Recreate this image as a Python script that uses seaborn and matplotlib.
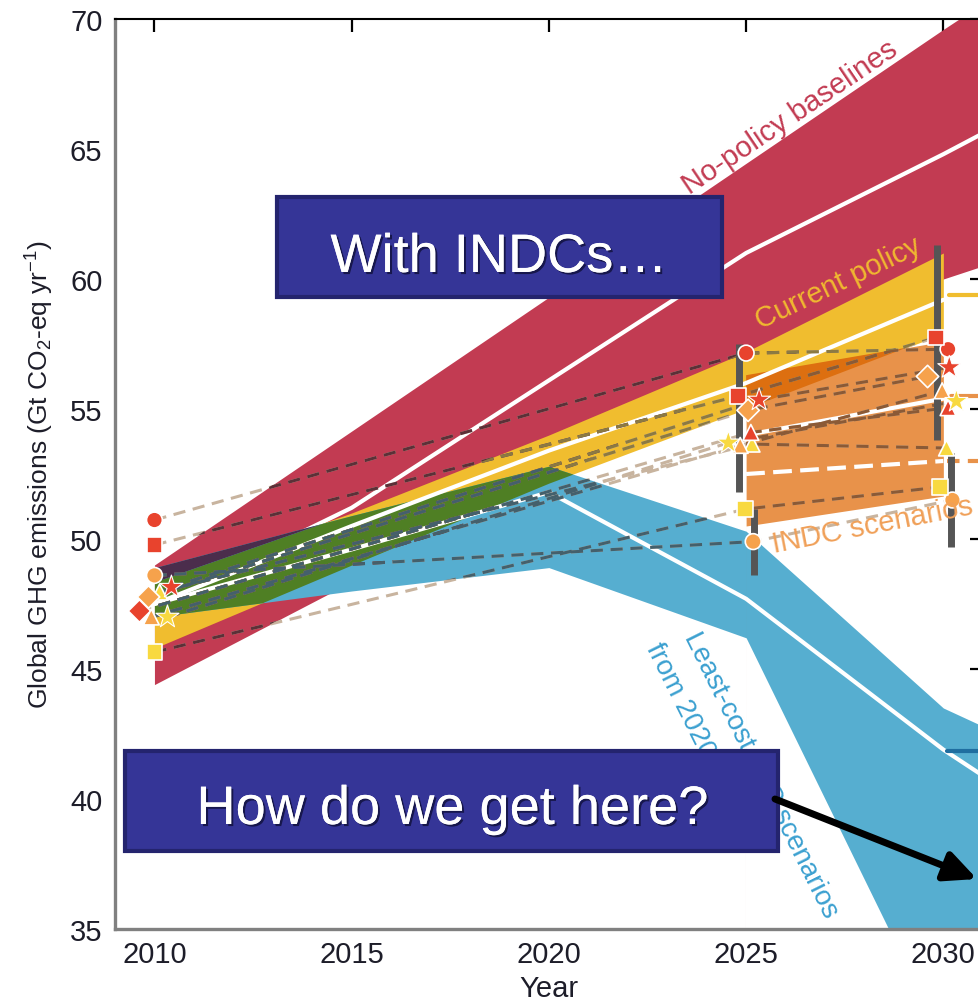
import numpy as np
import pandas as pd
import matplotlib
matplotlib.use("Agg")
import matplotlib.pyplot as plt
import matplotlib.patheffects as pe
from matplotlib import font_manager
from matplotlib.patches import Rectangle, FancyArrowPatch
import seaborn as sns

# ---- emission ranges (Gt CO2-eq / yr) ----
red_years = [2010, 2020, 2030, 2031]
red_top = [49.0, 59.3, 69.6, 70.6]
red_low = [44.4, 52.3, 60.0, 60.5]
red_mid_years = [2010, 2015, 2020, 2025, 2030, 2031]
red_mid = [47.5, 51.2, 56.1, 61.0, 64.8, 65.6]

cp_years = [2010, 2015, 2020, 2025, 2030]
cp_top = [48.35, 51.0, 54.0, 57.2, 61.0]
cp_low = [45.8, 49.0, 52.15, 55.0, 57.9]
cp_mid = [47.5, 50.5, 53.4, 56.0, 59.2]

lc_years = [2010, 2015, 2020, 2025, 2030, 2031]
lc_top = [48.9, 50.9, 52.8, 50.3, 43.5, 42.8]
lc_low = [47.0, 48.0, 48.9, 46.2, 30.7, 27.6]
lc_mid = [47.5, 49.6, 51.8, 47.7, 41.9, 40.9]

indc_years = [2025, 2030]
indc_top = [56.3, 57.6]
indc_low = [50.5, 51.65]
indc_mid = [54.0, 55.4]
indc_cond = [52.5, 53.0]

# ---- individual studies: 2010 / 2025 / 2030 points ----
scen_colour = ["red", "red", "orange", "yellow", "red", "orange", "red", "orange", "yellow", "yellow"]
mk_2010 = ["o", "s", "o", "^", "*", "D", "D", "^", "*", "s"]
mk_later = ["o", "s", "o", "^", "*", "D", "^", "^", "*", "s"]
x2010 = [2010.0, 2010.0, 2010.0, 2010.13, 2010.43, 2009.85, 2009.62, 2009.92, 2010.33, 2010.0]
v2010 = [50.73, 49.77, 48.6, 47.96, 48.15, 47.77, 47.23, 47.0, 47.0, 45.65]
x2025 = [2025.0, 2024.8, 2025.18, 2025.15, 2025.33, 2025.05, 2025.12, 2024.85, 2024.55, 2024.98]
v2025 = [57.15, 55.5, 49.9, 53.65, 55.35, 54.95, 54.1, 53.6, 53.7, 51.15]
x2030 = [2030.12, 2029.82, 2030.23, 2030.08, 2030.15, 2029.6, 2030.12, 2029.97, 2030.33, 2029.92]
v2030 = [57.3, 57.75, 51.5, 53.5, 56.6, 56.25, 55.05, 55.7, 55.3, 52.0]

# grey range bars
bar_x = [2024.83, 2025.2, 2029.83, 2030.2]
bar_lo = [51.8, 48.6, 53.8, 49.7]
bar_hi = [57.5, 51.15, 61.3, 53.3]

# stubs of the 2030 panel to the right
stub_start = [2030.15, 2030.2, 2030.1]
stub_value = [59.4, 55.5, 41.85]
stub_colour = ["#f0bd2f", "#e8924a", "#1f6ea0"]
stub_dash_start = 2030.1
stub_dash_value = 53.0

RED, YEL, BLU, ORA = "#c23b52", "#f0bd2f", "#56aed0", "#e8924a"
PURPLE, GREEN, DARKORA = "#4b2d4c", "#4f7f24", "#dd6f10"
TAN = "#c8b49f"
mk_pal = {"red": "#e8432d", "orange": "#f6a24c", "yellow": "#f8d940"}

sns.set_style("white")
names = {f.name for f in font_manager.fontManager.ttflist}
plt.rcParams["font.family"] = ["Liberation Sans", "DejaVu Sans"]
plt.rcParams["mathtext.default"] = "regular"
narrow = "Liberation Sans Narrow" in names
box_family = ["Liberation Sans Narrow", "Liberation Sans", "DejaVu Sans"] if narrow else ["Liberation Sans", "DejaVu Sans"]
box_size = 46 if narrow else 39

fig = plt.figure(figsize=(9.79, 10.04), dpi=100)
ax = fig.add_axes([115 / 979, 74 / 1004, 867 / 979, 910 / 1004])

# bands
red_poly = ax.fill_between(red_years, red_low, red_top, color=RED, lw=0, zorder=1)
sns.lineplot(x=red_mid_years, y=red_mid, color="white", lw=3, zorder=1.1, ax=ax)
cp_poly = ax.fill_between(cp_years, cp_low, cp_top, color=YEL, lw=0, zorder=1.2)
lc_poly = ax.fill_between(lc_years, lc_low, lc_top, color=BLU, lw=0, zorder=1.3)

xx = np.linspace(2010, 2031, 2101)
def edge(xs, ys):
    return np.interp(xx, xs, ys, left=np.nan, right=np.nan)

rt, rb = edge(red_years, red_top), edge(red_years, red_low)
yt, yb = edge(cp_years, cp_top), edge(cp_years, cp_low)
bt, bb = edge(lc_years, lc_top), edge(lc_years, lc_low)
ot, ob = edge(indc_years, indc_top), edge(indc_years, indc_low)

def overlap(lo, hi, colour, z):
    ok = np.isfinite(lo) & np.isfinite(hi) & (hi > lo)
    lo = np.where(np.isfinite(lo), lo, 0.0)
    hi = np.where(np.isfinite(hi), hi, 0.0)
    ax.fill_between(xx, lo, hi, where=ok, interpolate=True, color=colour, lw=0, zorder=z)

with np.errstate(invalid="ignore"):
    overlap(np.maximum(yb, bb), np.minimum(yt, bt), GREEN, 1.4)
    overlap(np.maximum(np.maximum(yt, bb), rb), np.minimum(bt, rt), PURPLE, 1.4)

sns.lineplot(x=lc_years, y=lc_mid, color="white", lw=3, zorder=1.5, ax=ax)

indc_poly = ax.fill_between(indc_years, indc_low, indc_top, color=ORA, lw=0, zorder=1.6)
with np.errstate(invalid="ignore"):
    overlap(np.maximum(ob, yb), np.minimum(ot, yt), DARKORA, 1.65)
sns.lineplot(x=indc_years, y=indc_mid, color="white", lw=3, zorder=1.7, ax=ax)
sns.lineplot(x=indc_years, y=indc_cond, color="white", lw=3, linestyle=(0, (4.5, 2)), zorder=1.7, ax=ax)
sns.lineplot(x=cp_years, y=cp_mid, color="white", lw=3, zorder=1.75, ax=ax)

for xs, v, c in zip(stub_start, stub_value, stub_colour):
    ax.plot([xs, 2031.5], [v, v], color=c, lw=3, zorder=1.8)
ax.plot([stub_dash_start, 2031.5], [stub_dash_value, stub_dash_value], color=ORA, lw=3,
        linestyle=(0, (3, 2)), zorder=1.8)

# study lines (tan on white, darker where they cross a band)
rows = []
for i in range(len(v2010)):
    for x, v in ((x2010[i], v2010[i]), (x2025[i], v2025[i]), (x2030[i], v2030[i])):
        rows.append({"scenario": i, "year": x, "value": v})
scen_df = pd.DataFrame(rows)

def study_lines(colour, clip=None):
    n0 = len(ax.lines)
    sns.lineplot(data=scen_df, x="year", y="value", units="scenario", estimator=None,
                 color=colour, lw=2.2, linestyle=(0, (4, 2.5)), zorder=2, ax=ax)
    if clip is not None:
        for ln in ax.lines[n0:]:
            ln.set_clip_path(clip.get_paths()[0], ax.transData)

study_lines(TAN)
study_lines("#5c3038", red_poly)
study_lines("#8c7a42", cp_poly)
study_lines("#44606c", lc_poly)
study_lines("#8b5a36", indc_poly)

ax.vlines(bar_x, bar_lo, bar_hi, color="#555555", lw=5, zorder=3)

mk_rows = []
for i in range(len(v2010)):
    mk_rows.append({"year": x2010[i], "value": v2010[i], "m": mk_2010[i], "c": scen_colour[i]})
    mk_rows.append({"year": x2025[i], "value": v2025[i], "m": mk_later[i], "c": scen_colour[i]})
    mk_rows.append({"year": x2030[i], "value": v2030[i], "m": mk_later[i], "c": scen_colour[i]})
mk_df = pd.DataFrame(mk_rows)
plain = mk_df[mk_df["m"] != "*"]
stars = mk_df[mk_df["m"] == "*"]
sns.scatterplot(data=plain, x="year", y="value", hue="c", palette=mk_pal, style="m",
                markers={m: m for m in plain["m"].unique()}, s=130, edgecolor="white",
                linewidth=1.2, legend=False, zorder=4, ax=ax)
sns.scatterplot(data=stars, x="year", y="value", hue="c", palette=mk_pal, marker="*",
                s=300, edgecolor="white", linewidth=0.8, legend=False, zorder=4, ax=ax)

# band labels
ax.text(2026.12, 66.23, "No-policy baselines", color=RED, fontsize=21, rotation=34,
        ha="center", va="center", rotation_mode="anchor", zorder=5)
ax.text(2027.34, 59.88, "Current policy", color="#f0b830", fontsize=21, rotation=25.5,
        ha="center", va="center", rotation_mode="anchor", zorder=5)
ax.text(2025.67, 49.81, "INDC scenarios", color="#f0a058", fontsize=21, rotation=11,
        ha="left", va="center", rotation_mode="anchor", zorder=5, clip_on=False)
ax.text(2023.59, 46.38, "Least-cost 2 °C scenarios", color="#3ba0d0", fontsize=20, rotation=-63.5,
        ha="left", va="center", rotation_mode="anchor", zorder=5)
ax.text(2022.62, 45.96, "from 2020", color="#3ba0d0", fontsize=20, rotation=-63.5,
        ha="left", va="center", rotation_mode="anchor", zorder=5)

ax.set_xlim(2009.0, 2030.98)
ax.set_ylim(35, 70)
ax.set_xticks([2010, 2015, 2020, 2025, 2030])
ax.set_yticks(range(35, 71, 5))
ax.tick_params(direction="in", length=9, width=1.6, color="black", top=True, right=True,
               labelsize=21, labelcolor="#1d1d29")
ax.tick_params(axis="y", pad=9)
ax.tick_params(axis="x", pad=8)
for s in ("left", "bottom"):
    ax.spines[s].set_color("#808080")
    ax.spines[s].set_linewidth(2.4)
ax.spines["top"].set_color("black")
ax.spines["top"].set_linewidth(1.5)
ax.set_xlabel("Year", fontsize=21, color="#1d1d29", labelpad=4)
ax.set_ylabel("Global GHG emissions (Gt CO$_2$-eq yr$^{-1}$)", fontsize=19, color="#1d1d29", labelpad=10)

# callout boxes
shadow = [pe.withSimplePatchShadow(offset=(1.5, -1.5), shadow_rgbFace="#10103a", alpha=0.8), pe.Normal()]
for (x0, y0, w, h), label, tx, ty in (
        ((277, 198, 445, 100), "With INDCs…", 499, 273),
        ((125, 752, 653, 100), "How do we get here?", 452, 825)):
    fig.add_artist(Rectangle((x0 / 979, (1004 - y0 - h) / 1004), w / 979, h / 1004,
                             transform=fig.transFigure, facecolor="#353597",
                             edgecolor="#24246e", lw=3, zorder=6))
    fig.text(tx / 979, (1004 - ty) / 1004, label, color="white", fontsize=box_size,
             family=box_family, ha="center", va="baseline", zorder=7, path_effects=shadow)

fig.add_artist(FancyArrowPatch((775 / 979, 204 / 1004), (977 / 979, 124 / 1004),
                               transform=fig.transFigure, arrowstyle="-|>,head_length=0.95,head_width=0.45",
                               mutation_scale=20, lw=5, color="black", shrinkA=0, shrinkB=0, zorder=8))

fig.savefig("out.png", dpi=100)
